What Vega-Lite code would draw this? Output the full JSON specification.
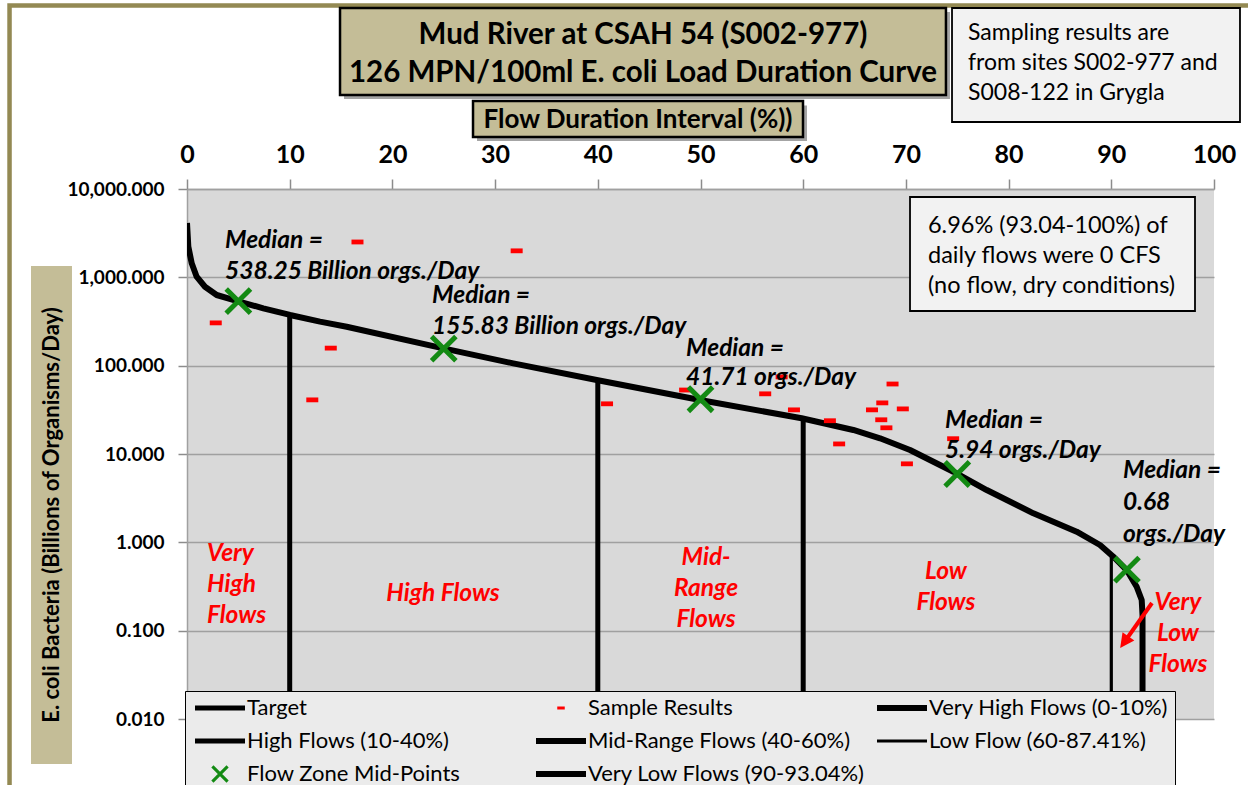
{
  "$schema": "https://vega.github.io/schema/vega-lite/v6.json",
  "width": 1027,
  "height": 530,
  "autosize": {"type": "none"},
  "padding": {"left": 187, "top": 189, "right": 34, "bottom": 66},
  "background": "white",
  "config": {
    "view": {"fill": "#D9D9D9", "stroke": null},
    "font": "Lato"
  },
  "encoding": {
    "x": {
      "field": "x", "type": "quantitative",
      "scale": {"domain": [0, 100], "nice": false, "zero": false},
      "axis": {
        "orient": "top", "values": [0, 10, 20, 30, 40, 50, 60, 70, 80, 90, 100], "format": "d",
        "grid": false, "title": null,
        "labelFont": "Lato", "labelFontSize": 25, "labelFontWeight": "bold", "labelColor": "black",
        "labelPadding": 12, "tickSize": 10, "tickColor": "#8C8C8C", "tickWidth": 1.5,
        "domainColor": "#A0A0A0", "domainWidth": 1.5, "labelOverlap": false, "labelFlush": false
      }
    },
    "y": {
      "field": "y", "type": "quantitative",
      "scale": {"type": "log", "domain": [0.01, 10000], "nice": false},
      "axis": {
        "orient": "left", "values": [0.01, 0.1, 1, 10, 100, 1000, 10000], "format": ",.3f",
        "grid": true, "gridColor": "#A0A0A0", "gridWidth": 1.5, "title": null,
        "labelFont": "Lato", "labelFontSize": 19, "labelFontWeight": "bold", "labelColor": "black",
        "labelPadding": 14, "tickSize": 9, "tickColor": "#8C8C8C", "tickWidth": 1.5,
        "domainColor": "#A0A0A0", "domainWidth": 1.5, "labelOverlap": false, "labelFlush": false
      }
    }
  },
  "layer": [
    {
      "data": {"values": [{"x": -17.28, "x2": 108.4, "y": 1195000, "y2": 0.0005}]},
      "mark": {"type": "rect", "fill": "transparent", "stroke": "#938953", "strokeWidth": 4.5, "clip": false},
      "encoding": {"x2": {"field": "x2"}, "y2": {"field": "y2"}}
    },
    {
      "data": {"values": [
        {"x": 15.29, "x2": 74.29, "y": 1009000, "y2": 104400},
        {"x": 28.24, "x2": 60.37, "y": 88000, "y2": 35000}
      ]},
      "mark": {"type": "rect", "fill": "#595959", "opacity": 0.55, "clip": false},
      "encoding": {"x2": {"field": "x2"}, "y2": {"field": "y2"}}
    },
    {
      "data": {"values": [
        {"x": 14.9, "x2": 73.9, "y": 1119000, "y2": 115900},
        {"x": 27.85, "x2": 59.98, "y": 99100, "y2": 38820}
      ]},
      "mark": {"type": "rect", "fill": "#C4BD97", "stroke": "black", "strokeWidth": 2.5, "clip": false},
      "encoding": {"x2": {"field": "x2"}, "y2": {"field": "y2"}}
    },
    {
      "data": {"values": [{"x": -15.19, "x2": -11.2, "y": 1344, "y2": 0.003095}]},
      "mark": {"type": "rect", "fill": "#C4BD97", "clip": false},
      "encoding": {"x2": {"field": "x2"}, "y2": {"field": "y2"}}
    },
    {
      "data": {"values": [
        {"x": 74.49, "x2": 102.53, "y": 1119000, "y2": 57350},
        {"x": 70.4, "x2": 98.15, "y": 8118, "y2": 415.7}
      ]},
      "mark": {"type": "rect", "fill": "#F2F2F2", "stroke": "black", "strokeWidth": 1.8, "clip": false},
      "encoding": {"x2": {"field": "x2"}, "y2": {"field": "y2"}}
    },
    {
      "data": {"values": [
        {"x": 44.4, "y": 553400, "label": "Mud River at CSAH 54 (S002-977)"},
        {"x": 44.4, "y": 205600, "label": "126 MPN/100ml  E. coli Load Duration Curve"}
      ]},
      "mark": {"type": "text", "font": "Lato", "fontSize": 29.5, "fontWeight": "bold", "color": "black", "align": "center", "baseline": "middle", "clip": false},
      "encoding": {"text": {"field": "label"}}
    },
    {
      "data": {"values": [{"x": 43.91, "y": 60390, "label": "Flow Duration Interval (%))"}]},
      "mark": {"type": "text", "font": "Lato", "fontSize": 26, "fontWeight": "bold", "color": "black", "align": "center", "baseline": "middle", "clip": false},
      "encoding": {"text": {"field": "label"}}
    },
    {
      "data": {"values": [{"x": -13.15, "y": 2.039, "label": "E. coli Bacteria (Billions of Organisms/Day)"}]},
      "mark": {"type": "text", "font": "Lato", "fontSize": 22, "fontWeight": "bold", "color": "black", "align": "center", "baseline": "middle", "angle": 270, "clip": false},
      "encoding": {"text": {"field": "label"}}
    },
    {
      "data": {"values": [
        {"x": 76.05, "y": 583400, "label": "Sampling results are"},
        {"x": 76.05, "y": 266900, "label": "from sites S002-977 and"},
        {"x": 76.05, "y": 122100, "label": "S008-122 in Grygla"}
      ]},
      "mark": {"type": "text", "font": "Lato", "fontSize": 23, "color": "black", "align": "left", "baseline": "middle", "clip": false},
      "encoding": {"text": {"field": "label"}}
    },
    {
      "data": {"values": [
        {"x": 72.15, "y": 3811, "label": "6.96% (93.04-100%) of"},
        {"x": 72.15, "y": 1744, "label": "daily flows were 0 CFS"},
        {"x": 72.15, "y": 798, "label": "(no flow, dry conditions)"}
      ]},
      "mark": {"type": "text", "font": "Lato", "fontSize": 23.5, "color": "black", "align": "left", "baseline": "middle", "clip": false},
      "encoding": {"text": {"field": "label"}}
    },
    {
      "data": {"values": [
        {"x": 10, "y": 375, "y2": 0.01},
        {"x": 40, "y": 68.8, "y2": 0.01},
        {"x": 60, "y": 25.4, "y2": 0.01}
      ]},
      "mark": {"type": "rule", "color": "black", "strokeWidth": 5},
      "encoding": {"y2": {"field": "y2"}}
    },
    {
      "data": {"values": [{"x": 90, "y": 0.72, "y2": 0.01}]},
      "mark": {"type": "rule", "color": "black", "strokeWidth": 3.2},
      "encoding": {"y2": {"field": "y2"}}
    },
    {
      "data": {"values": [
        {"x": 0, "y": 4120}, {"x": 0.13, "y": 2223}, {"x": 0.46, "y": 1442}, {"x": 0.94, "y": 1017},
        {"x": 1.75, "y": 783}, {"x": 2.89, "y": 631}, {"x": 5.0, "y": 535}, {"x": 7.43, "y": 446},
        {"x": 10.03, "y": 375}, {"x": 12.95, "y": 315}, {"x": 15.55, "y": 276}, {"x": 24.96, "y": 157},
        {"x": 31.77, "y": 106}, {"x": 39.89, "y": 68.8}, {"x": 49.95, "y": 40.9}, {"x": 59.85, "y": 25.4},
        {"x": 64.88, "y": 18.7}, {"x": 67.48, "y": 15.05}, {"x": 70.4, "y": 11.1}, {"x": 74.62, "y": 6.3},
        {"x": 77.87, "y": 3.91}, {"x": 82.41, "y": 2.13}, {"x": 86.63, "y": 1.32}, {"x": 88.9, "y": 0.933},
        {"x": 90.2, "y": 0.688}, {"x": 91.5, "y": 0.486}, {"x": 92.47, "y": 0.3145}, {"x": 92.96, "y": 0.2225},
        {"x": 93.04, "y": 0.15}, {"x": 93.04, "y": 0.001}
      ]},
      "mark": {"type": "line", "color": "black", "strokeWidth": 6, "strokeJoin": "round", "clip": true}
    },
    {
      "data": {"values": [
        {"x": 2.8, "y": 305, "series": "Sample Results"},
        {"x": 16.6, "y": 2513, "series": "Sample Results"},
        {"x": 32.1, "y": 1995, "series": "Sample Results"},
        {"x": 14.0, "y": 158, "series": "Sample Results"},
        {"x": 12.2, "y": 41, "series": "Sample Results"},
        {"x": 40.9, "y": 37, "series": "Sample Results"},
        {"x": 48.5, "y": 53, "series": "Sample Results"},
        {"x": 56.3, "y": 48, "series": "Sample Results"},
        {"x": 57.9, "y": 74.6, "series": "Sample Results"},
        {"x": 59.1, "y": 31.6, "series": "Sample Results"},
        {"x": 62.6, "y": 23.8, "series": "Sample Results"},
        {"x": 63.5, "y": 13.0, "series": "Sample Results"},
        {"x": 68.7, "y": 62, "series": "Sample Results"},
        {"x": 66.7, "y": 31.6, "series": "Sample Results"},
        {"x": 67.7, "y": 37.9, "series": "Sample Results"},
        {"x": 69.7, "y": 32.4, "series": "Sample Results"},
        {"x": 67.6, "y": 24.4, "series": "Sample Results"},
        {"x": 68.1, "y": 19.8, "series": "Sample Results"},
        {"x": 70.1, "y": 7.74, "series": "Sample Results"},
        {"x": 74.6, "y": 14.9, "series": "Sample Results"},
        {"x": 5, "y": 538.25, "series": "Flow Zone Mid-Points"},
        {"x": 25, "y": 155.83, "series": "Flow Zone Mid-Points"},
        {"x": 50, "y": 41.71, "series": "Flow Zone Mid-Points"},
        {"x": 75, "y": 5.94, "series": "Flow Zone Mid-Points"},
        {"x": 91.52, "y": 0.49, "series": "Flow Zone Mid-Points"}
      ]},
      "mark": {"type": "point", "filled": true, "size": 1024, "opacity": 1, "strokeWidth": 0},
      "encoding": {
        "color": {
          "field": "series", "type": "nominal",
          "scale": {
            "domain": ["Target", "Sample Results", "Very High Flows (0-10%)", "High Flows (10-40%)", "Mid-Range Flows (40-60%)", "Low Flow (60-87.41%)", "Flow Zone Mid-Points", "Very Low Flows (90-93.04%)"],
            "range": ["black", "#FF0000", "black", "black", "black", "black", "#138A13", "black"]
          },
          "legend": {"orient": "none", "direction": "horizontal", "legendX": -2, "legendY": 502, "columns": 3, "gridAlign": "all", "columnPadding": 8, "rowPadding": 11, "symbolSize": 400, "symbolOffset": 18, "labelOffset": 16, "labelFont": "Lato", "labelFontSize": 22, "labelColor": "black", "labelLimit": 400, "padding": 6, "fillColor": "#EBEBEB", "strokeColor": "black", "title": null, "symbolStrokeWidth": 0}
        },
        "shape": {
          "field": "series", "type": "nominal",
          "scale": {
            "domain": ["Target", "Sample Results", "Very High Flows (0-10%)", "High Flows (10-40%)", "Mid-Range Flows (40-60%)", "Low Flow (60-87.41%)", "Flow Zone Mid-Points", "Very Low Flows (90-93.04%)"],
            "range": [
              "M-2.5,-0.25H2.5V0.25H-2.5Z",
              "M-0.375,-0.15H0.375V0.15H-0.375Z",
              "M-2.5,-0.3H2.5V0.3H-2.5Z",
              "M-2.5,-0.25H2.5V0.25H-2.5Z",
              "M-2.5,-0.3H2.5V0.3H-2.5Z",
              "M-2.5,-0.15H2.5V0.15H-2.5Z",
              "M-0.65,-0.87L0.87,0.65L0.65,0.87L-0.87,-0.65ZM0.87,-0.65L-0.65,0.87L-0.87,0.65L0.65,-0.87Z",
              "M-2.5,-0.3H2.5V0.3H-2.5Z"
            ]
          },
          "legend": {"orient": "none", "direction": "horizontal", "legendX": -2, "legendY": 502, "columns": 3, "gridAlign": "all", "columnPadding": 8, "rowPadding": 11, "symbolSize": 400, "symbolOffset": 18, "labelOffset": 16, "labelFont": "Lato", "labelFontSize": 22, "labelColor": "black", "labelLimit": 400, "padding": 6, "fillColor": "#EBEBEB", "strokeColor": "black", "title": null, "symbolStrokeWidth": 0}
        }
      }
    },
    {
      "data": {"values": [
        {"x": 3.7, "y": 2148, "label": "Median ="},
        {"x": 3.7, "y": 957.4, "label": "538.25 Billion orgs./Day"},
        {"x": 23.86, "y": 512.2, "label": "Median ="},
        {"x": 23.86, "y": 228.3, "label": "155.83 Billion orgs./Day"},
        {"x": 48.59, "y": 128.6, "label": "Median ="},
        {"x": 48.59, "y": 60.41, "label": "41.71 orgs./Day"},
        {"x": 73.81, "y": 19.69, "label": "Median ="},
        {"x": 73.81, "y": 9.01, "label": "5.94 orgs./Day"},
        {"x": 91.14, "y": 5.349, "label": "Median ="},
        {"x": 91.14, "y": 2.323, "label": "0.68"},
        {"x": 91.14, "y": 1.009, "label": "orgs./Day"}
      ]},
      "mark": {"type": "text", "font": "Lato", "fontSize": 24.5, "fontWeight": "bold", "fontStyle": "italic", "color": "black", "align": "left", "baseline": "alphabetic", "clip": false},
      "encoding": {"text": {"field": "label"}}
    },
    {
      "data": {"values": [
        {"x": 1.95, "y": 0.7376, "label": "Very"},
        {"x": 1.95, "y": 0.3289, "label": "High"},
        {"x": 1.95, "y": 0.1466, "label": "Flows"}
      ]},
      "mark": {"type": "text", "font": "Lato", "fontSize": 24.5, "fontWeight": "bold", "fontStyle": "italic", "color": "#FF0000", "align": "left", "baseline": "middle"},
      "encoding": {"text": {"field": "label"}}
    },
    {
      "data": {"values": [
        {"x": 24.93, "y": 0.2602, "label": "High Flows"},
        {"x": 50.54, "y": 0.6647, "label": "Mid-"},
        {"x": 50.54, "y": 0.2962, "label": "Range"},
        {"x": 50.54, "y": 0.132, "label": "Flows"},
        {"x": 73.9, "y": 0.4615, "label": "Low"},
        {"x": 73.9, "y": 0.2057, "label": "Flows"},
        {"x": 96.49, "y": 0.2057, "label": "Very"},
        {"x": 96.49, "y": 0.0917, "label": "Low"},
        {"x": 96.49, "y": 0.04088, "label": "Flows"}
      ]},
      "mark": {"type": "text", "font": "Lato", "fontSize": 24.5, "fontWeight": "bold", "fontStyle": "italic", "color": "#FF0000", "align": "center", "baseline": "middle", "clip": false},
      "encoding": {"text": {"field": "label"}}
    },
    {
      "data": {"values": [{"x": 93.96, "y": 0.2057, "x2": 91.31, "y2": 0.0754}]},
      "mark": {"type": "rule", "color": "#FF0000", "strokeWidth": 4},
      "encoding": {"x2": {"field": "x2"}, "y2": {"field": "y2"}}
    },
    {
      "data": {"values": [{"x": 91.31, "y": 0.0754}]},
      "mark": {"type": "point", "shape": "M0,-1L0.9,0.8L-0.9,0.8Z", "size": 256, "angle": 215, "filled": true, "color": "#FF0000", "opacity": 1, "strokeWidth": 0}
    }
  ]
}
